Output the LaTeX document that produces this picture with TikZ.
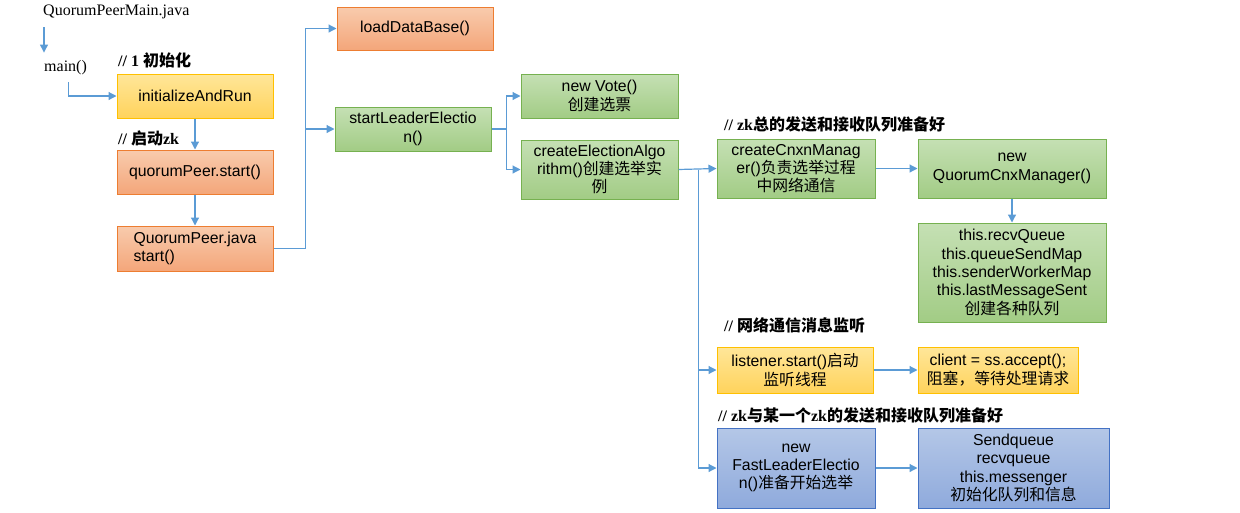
\documentclass[tikz,border=0pt]{standalone}
\usepackage{fontspec}
\setmainfont{Liberation Sans}
\newfontfamily\serif{Liberation Serif}
\newfontfamily\cjk{Noto Sans CJK SC}
\usetikzlibrary{positioning,arrows.meta}

\definecolor{link_blue}{HTML}{5B9BD5}
\definecolor{yellow_line}{HTML}{FFC000}
\definecolor{yellow_top}{HTML}{FFE699}
\definecolor{yellow_bottom}{HTML}{FFD35C}
\definecolor{salmon_line}{HTML}{ED7D31}
\definecolor{salmon_top}{HTML}{F8CBAD}
\definecolor{salmon_bottom}{HTML}{F4A67A}
\definecolor{green_line}{HTML}{76B150}
\definecolor{green_top}{HTML}{C5E0B4}
\definecolor{green_bottom}{HTML}{A2CC85}
\definecolor{blue_line}{HTML}{4472C4}
\definecolor{blue_top}{HTML}{B4C7E7}
\definecolor{blue_bottom}{HTML}{8FAADC}

\begin{document}
\begin{tikzpicture}[x=1pt, y=-1pt, % pixel coordinates, y grows downwards
font=\fontsize{15.8}{18.3}\selectfont,
box/.style={rectangle, line width=1pt, minimum width=156pt, minimum height=44pt, inner sep=2pt, align=center},
yellow_box/.style={box, draw=yellow_line, top color=yellow_top, bottom color=yellow_bottom},
salmon_box/.style={box, draw=salmon_line, top color=salmon_top, bottom color=salmon_bottom},
green_box/.style={box, draw=green_line, top color=green_top, bottom color=green_bottom},
blue_box/.style={box, draw=blue_line, top color=blue_top, bottom color=blue_bottom},
serif_text/.style={anchor=west, inner sep=0pt, font=\serif\fontsize{16}{18.5}\selectfont},
note/.style={anchor=west, inner sep=0pt, font=\serif\bfseries\fontsize{16}{18}\selectfont},
link/.style={draw=link_blue, line width=1.2pt, -{Triangle[width=8pt,length=8pt]}},
]
\useasboundingbox (0,0) rectangle (1240,512);

% \node[type](name_of_node)[position]{text_in_node}
\node[serif_text](main_java) at (43,12){QuorumPeerMain.java};
\node[serif_text](main_fn) at (44,68){main()};

\node[note](note_init) at (118,60){// 1 {\cjk 初始化}};
\node[yellow_box](init) at (195,96){initializeAndRun};
\node[note](note_start) at (118,138){// {\cjk 启动}zk};
\node[salmon_box](peer_start)[below=31pt of init]{quorumPeer.start()};
\node[salmon_box, minimum height=45pt, align=left](peer_java)[below=31pt of peer_start]{QuorumPeer.java\\start()};

\node[salmon_box, minimum height=43pt](load_db) at (415,28.5){loadDataBase()};
\node[green_box](leader_election) at (413,129){startLeaderElectio\\n()};

\node[green_box, minimum width=157pt](new_vote) at (599.5,96){new Vote()\\{\cjk 创建选票}};
\node[green_box, minimum width=157pt, minimum height=59pt](create_algo)[below=21pt of new_vote]{createElectionAlgo\\rithm(){\cjk 创建选举实}\\{\cjk 例}};

\node[note](note_cnxn) at (724,124){// zk{\cjk 总的发送和接收队列准备好}};
\node[green_box, minimum width=158pt, minimum height=59pt](cnxn_manager) at (796,168.5){createCnxnManag\\er(){\cjk 负责选举过程}\\{\cjk 中网络通信}};
\node[green_box, minimum width=188pt, minimum height=59pt](quorum_cnx)[right=42pt of cnxn_manager]{new\\QuorumCnxManager()};
\node[green_box, minimum width=188pt, minimum height=99pt](queues)[below=24pt of quorum_cnx]{this.recvQueue\\this.queueSendMap\\this.senderWorkerMap\\this.lastMessageSent\\{\cjk 创建各种队列}};

\node[note](note_listen) at (724,325){// {\cjk 网络通信消息监听}};
\node[yellow_box, minimum height=46pt](listener) at (795,370){listener.start(){\cjk 启动}\\{\cjk 监听线程}};
\node[yellow_box, minimum width=160pt, minimum height=46pt](accept)[right=44pt of listener]{client = ss.accept();\\{\cjk 阻塞，等待处理请求}};

\node[note](note_fast) at (718,415){// zk{\cjk 与某一个}zk{\cjk 的发送和接收队列准备好}};
\node[blue_box, minimum width=158pt, minimum height=80pt](fast_election) at (796,468){new\\FastLeaderElectio\\n(){\cjk 准备开始选举}};
\node[blue_box, minimum width=191pt, minimum height=80pt](send_queue)[right=42pt of fast_election]{Sendqueue\\recvqueue\\this.messenger\\{\cjk 初始化队列和信息}};

% split points of the branching connectors
\coordinate (split_peer) at ([xshift=32pt]peer_java.east);
\coordinate (split_election) at ([xshift=15pt]leader_election.east);
\coordinate (split_algo) at ([xshift=20pt]create_algo.east);

% \draw[link] (name_of_node.direction) -- (name_of_node.direction)
\draw[link] ([xshift=1pt,yshift=-8pt]main_java.south west) -- ([yshift=8pt]main_fn.north west);
\draw[link] ([xshift=3pt,yshift=-7pt]main_fn.south) |- (init.west);

\draw[link] (init) -- (peer_start);
\draw[link] (peer_start) -- (peer_java);

\draw[link] (peer_java.east) -- (split_peer) |- (load_db.west);
\draw[link] (split_peer) |- (leader_election.west);

\draw[link] (leader_election.east) -- (split_election) |- (new_vote.west);
\draw[link] (split_election) |- (create_algo.west);

\draw[link] (create_algo.east) -- (cnxn_manager.west);
\draw[link] (split_algo) |- (listener.west);
\draw[link] (split_algo) |- (fast_election.west);

\draw[link] (cnxn_manager) -- (quorum_cnx);
\draw[link] (quorum_cnx) -- (queues);
\draw[link] (listener) -- (accept);
\draw[link] (fast_election) -- (send_queue);

\end{tikzpicture}
\end{document}
